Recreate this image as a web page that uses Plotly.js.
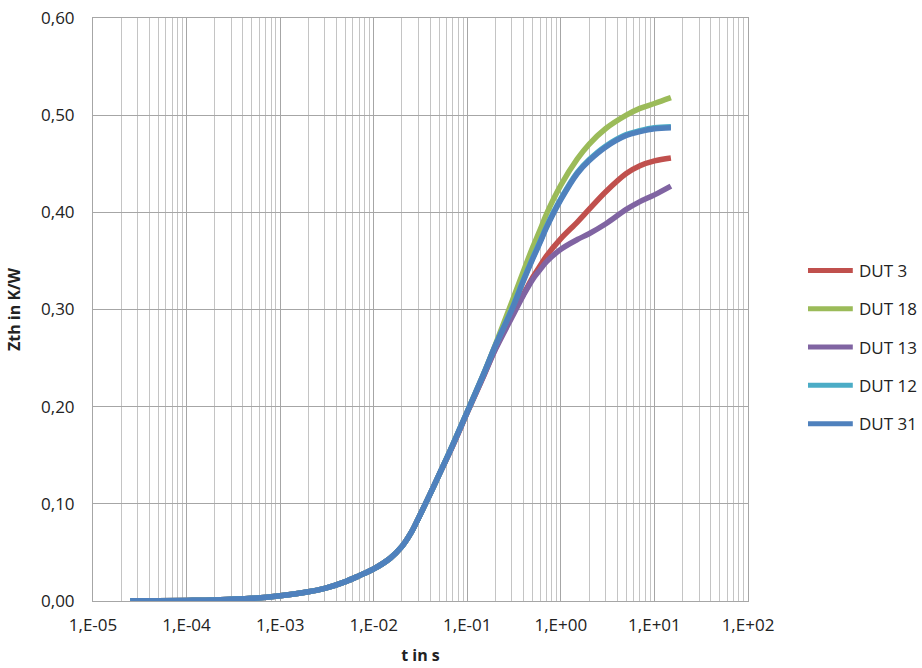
<!DOCTYPE html>
<html>
<head>
<meta charset="utf-8">
<script src="https://cdn.plot.ly/plotly-3.0.1.min.js"></script>
<style>html,body{margin:0;padding:0;background:#fff;}#chart{width:922px;height:668px;}</style>
</head>
<body>
<div id="chart"></div>
<script>
// time in s
const timeS = [2.5e-5, 5e-5, 1e-4, 2e-4, 5e-4, 1e-3, 2e-3, 3e-3, 5e-3, 7e-3, 1e-2, 1.5e-2, 2e-2, 2.5e-2, 3e-2, 4e-2, 5e-2, 7e-2, 0.1, 0.15,
               0.2, 0.3, 0.4, 0.5, 0.6, 0.7, 1, 1.5, 2, 3, 5, 7, 10, 15];
// Zth in K/W
const dut3  = [0.0002, 0.0003, 0.0006, 0.0011, 0.0028, 0.0055, 0.0095, 0.013, 0.020, 0.026, 0.033, 0.044, 0.056, 0.070, 0.085, 0.110, 0.130, 0.160, 0.194, 0.232,
               0.260, 0.295, 0.316, 0.333, 0.345, 0.355, 0.373, 0.390, 0.403, 0.421, 0.440, 0.448, 0.453, 0.456];
const dut18 = [0.0002, 0.0003, 0.0006, 0.0011, 0.0028, 0.0055, 0.0095, 0.013, 0.020, 0.026, 0.033, 0.044, 0.056, 0.070, 0.085, 0.110, 0.130, 0.161, 0.195, 0.234,
               0.264, 0.308, 0.340, 0.364, 0.382, 0.398, 0.428, 0.455, 0.470, 0.486, 0.500, 0.507, 0.512, 0.518];
const dut13 = [0.0002, 0.0003, 0.0006, 0.0011, 0.0028, 0.0055, 0.0095, 0.013, 0.020, 0.026, 0.033, 0.044, 0.056, 0.070, 0.085, 0.110, 0.130, 0.160, 0.194, 0.232,
               0.259, 0.292, 0.315, 0.331, 0.341, 0.349, 0.362, 0.372, 0.378, 0.388, 0.403, 0.411, 0.418, 0.427];
const dut12 = [0.0002, 0.0003, 0.0006, 0.0011, 0.0028, 0.0055, 0.0095, 0.013, 0.020, 0.026, 0.033, 0.044, 0.056, 0.070, 0.085, 0.110, 0.130, 0.161, 0.195, 0.234,
               0.263, 0.301, 0.331, 0.353, 0.370, 0.385, 0.414, 0.441, 0.454, 0.468, 0.480, 0.484, 0.487, 0.488];
const dut31 = [0.0002, 0.0003, 0.0006, 0.0011, 0.0028, 0.0055, 0.0095, 0.013, 0.020, 0.026, 0.033, 0.044, 0.056, 0.070, 0.085, 0.110, 0.130, 0.161, 0.195, 0.234,
               0.263, 0.300, 0.330, 0.352, 0.369, 0.384, 0.413, 0.440, 0.453, 0.467, 0.479, 0.483, 0.486, 0.487];

const seriesNames  = ['DUT 3', 'DUT 18', 'DUT 13', 'DUT 12', 'DUT 31'];
const seriesValues = [dut3, dut18, dut13, dut12, dut31];
const seriesColors = ['#C0504D', '#9BBB59', '#8064A2', '#4BACC6', '#4F81BD'];

const xTickVals = [1e-5, 1e-4, 1e-3, 1e-2, 1e-1, 1e0, 1e1, 1e2];
const xTickText = ['1,E-05', '1,E-04', '1,E-03', '1,E-02', '1,E-01', '1,E+00', '1,E+01', '1,E+02'];
const yTickVals = [0, 0.1, 0.2, 0.3, 0.4, 0.5, 0.6];
const yTickText = ['0,00', '0,10', '0,20', '0,30', '0,40', '0,50', '0,60'];

const FAM = 'Open Sans, Liberation Sans, sans-serif';
const TXT = '#222';

const traces = seriesNames.map((n, i) => ({
  type: 'scatter', mode: 'lines', name: n,
  x: timeS, y: seriesValues[i],
  line: {color: seriesColors[i], width: 5.5, shape: 'spline', smoothing: 1},
  showlegend: false
}));

// custom legend (paper coordinates) so the line samples are as long as in the original
const legX0 = 1.0916, legX1 = 1.160, legTx = 1.166, legY0 = 0.567, legDy = 0.0657;
const shapes = seriesNames.map((n, i) => ({
  type: 'line', xref: 'paper', yref: 'paper',
  x0: legX0, x1: legX1, y0: legY0 - i * legDy, y1: legY0 - i * legDy,
  line: {color: seriesColors[i], width: 5}
}));
const annotations = seriesNames.map((n, i) => ({
  xref: 'paper', yref: 'paper', x: legTx, y: legY0 - i * legDy,
  xanchor: 'left', yanchor: 'middle', showarrow: false, text: n,
  font: {family: FAM, size: 17, color: TXT}
}));

const layout = {
  width: 922, height: 668,
  margin: {l: 93, r: 174, t: 18, b: 67},
  paper_bgcolor: '#fff', plot_bgcolor: '#fff',
  font: {family: FAM, size: 17, color: TXT},
  showlegend: false,
  shapes: shapes,
  annotations: annotations,
  xaxis: {
    type: 'log', range: [-5, 2],
    tickvals: xTickVals, ticktext: xTickText,
    ticks: '', ticklabelstandoff: 9,
    tickfont: {family: FAM, size: 17, color: TXT},
    showgrid: true, gridcolor: '#A6A6A6', gridwidth: 1,
    minor: {dtick: 'D1', showgrid: true, gridcolor: '#C4C4C4', gridwidth: 1, ticks: ''},
    showline: true, linecolor: '#A6A6A6', linewidth: 1, mirror: true,
    zeroline: false,
    title: {text: '<b>t in s</b>', standoff: 14, font: {family: FAM, size: 16, color: TXT}}
  },
  yaxis: {
    range: [0, 0.6],
    tickvals: yTickVals, ticktext: yTickText,
    ticks: '', ticklabelstandoff: 14,
    tickfont: {family: FAM, size: 17, color: TXT},
    showgrid: true, gridcolor: '#A6A6A6', gridwidth: 1,
    showline: true, linecolor: '#A6A6A6', linewidth: 1, mirror: true,
    zeroline: false,
    title: {text: '<b>Zth in K/W</b>', standoff: 16, font: {family: FAM, size: 16, color: TXT}}
  }
};

Plotly.newPlot('chart', traces, layout, {displayModeBar: false, staticPlot: true});
</script>
</body>
</html>
